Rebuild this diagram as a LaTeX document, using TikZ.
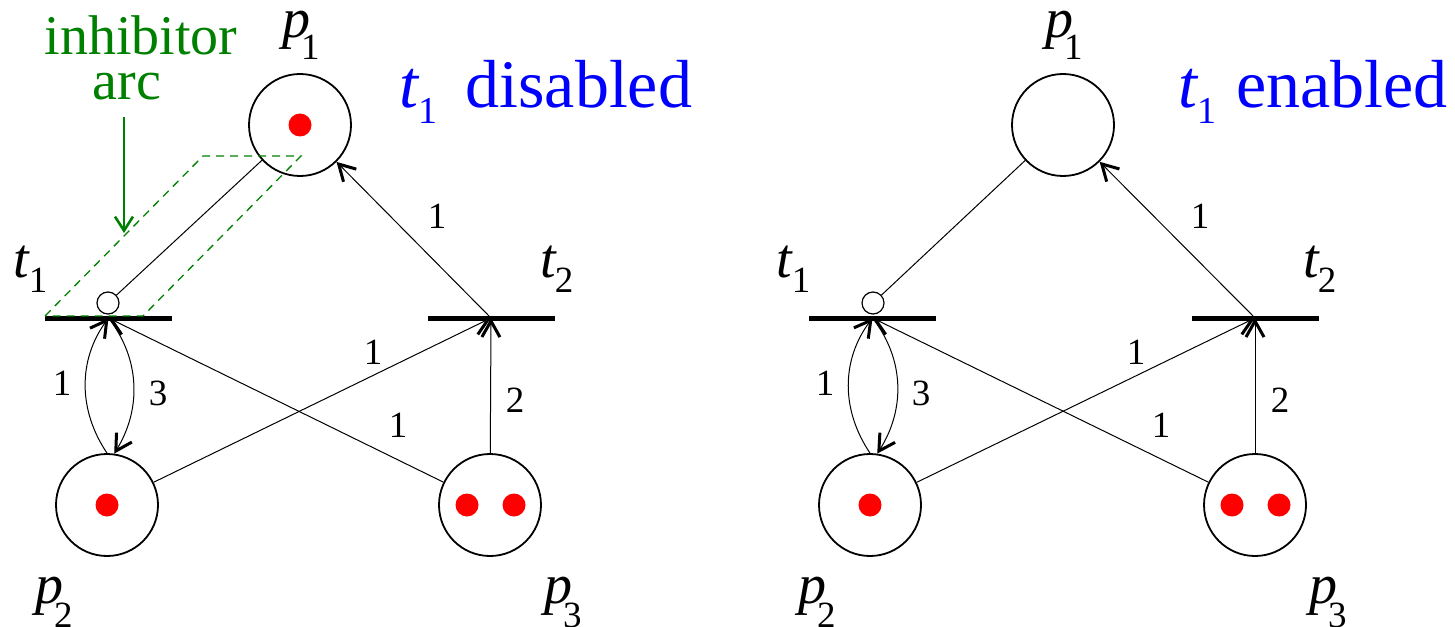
\documentclass[tikz,border=0pt]{standalone}
\usepackage{fontspec}
\setmainfont{Liberation Serif}
\usetikzlibrary{arrows.meta}
\newcommand{\subdig}[3]{\kern#1\raisebox{-#2}{\fontsize{37bp}{40bp}\selectfont #3}}
\newcommand{\bsubdig}[3]{\kern#1\raisebox{-#2}{\fontsize{38bp}{40bp}\selectfont #3}}
\begin{document}
\begin{tikzpicture}[x=1bp,y=-1bp,
  place/.style={circle,draw,line width=1.8bp,minimum size=102bp,inner sep=0pt},
  transbar/.style={rectangle,fill=black,minimum width=127bp,minimum height=5bp,inner sep=0pt},
  inhib/.style={circle,draw,line width=1.2bp,fill=white,minimum size=22bp,inner sep=0pt},
  tok/.style={circle,fill=red,minimum size=23bp,inner sep=0pt},
  pnarc/.style={line width=1bp,-{Straight Barb[length=16bp,width=18bp,line width=3bp]}},
  thinline/.style={line width=1bp},
  num/.style={font=\fontsize{37bp}{40bp}\selectfont,inner sep=0pt},
  biglbl/.style={font=\fontsize{56bp}{60bp}\selectfont,anchor=base west,inner sep=0pt},
  bluelbl/.style={font=\fontsize{68bp}{72bp}\selectfont,anchor=base west,inner sep=0pt,text=blue},
  greentxt/.style={font=\fontsize{56bp}{60bp}\selectfont,anchor=base,inner sep=0pt,text=inhgreen},
]
\definecolor{inhgreen}{rgb}{0,0.5,0}
\useasboundingbox (0,0) rectangle (1455,627);

% ================= LEFT NET =================
\node[place] (Lp1) at (300,125) {};
\node[place] (Lp2) at (107,505) {};
\node[place] (Lp3) at (490,505) {};
\node[transbar] (Lt1) at (108.5,318) {};
\node[transbar] (Lt2) at (491,318) {};
\node[inhib] (Linh) at (108,303) {};
\node[tok] (Lk1) at (300,125) {};
\node[tok] (Lk2) at (107,505) {};
\node[tok] (Lk3) at (467,505) {};
\node[tok] (Lk4) at (514,505) {};

\draw[thinline] (Linh) -- (Lp1);
\draw[pnarc] (Lt2.center) -- (Lp1);
\draw[pnarc] (Lp3) -- (Lt2.center);
\draw[pnarc] (Lp2) -- (Lt2.center);
\draw[pnarc] (Lp3) -- (Lt1.center);
\draw[pnarc] (Lp2.north) .. controls (78,410) and (78,360) .. (Lt1.center);
\draw[pnarc] (Lt1.center) .. controls (141,360) and (141,410) .. (Lp2.82);

\node[num] (Ln1) at (437,216) {1};
\node[num] (Ln2) at (373,352) {1};
\node[num] (Ln3) at (398,425) {1};
\node[num] (Ln4) at (515,400) {2};
\node[num] (Ln5) at (62,383) {1};
\node[num] (Ln6) at (158,393) {3};

\node[biglbl] (Lp1l) at (282,38) {\textit{p}\subdig{-9bp}{22bp}{1}};
\node[biglbl] (Lt1l) at (13,277) {\textit{t}\subdig{-1bp}{15bp}{1}};
\node[biglbl] (Lt2l) at (540,277) {\textit{t}\subdig{-2bp}{15bp}{2}};
\node[biglbl] (Lp2l) at (35,603) {\textit{p}\subdig{-9bp}{24bp}{2}};
\node[biglbl] (Lp3l) at (544,603) {\textit{p}\subdig{-9bp}{24bp}{3}};
\node[bluelbl] (Lstate) at (399,108) {\textit{t}\bsubdig{-1bp}{16bp}{1}\kern28bp disabled};

% inhibitor annotation
\draw[inhgreen,line width=1.3bp,dash pattern=on 8bp off 6bp]
  (45,316) -- (203,156) -- (301,156) -- (143,316) -- cycle;
\node[greentxt] (Linhtxt) at (141,55) {inhibitor};
\node[greentxt] (Larctxt) at (127,100) {arc};
\coordinate (Lga) at (124,117);
\coordinate (Lgb) at (124,233);
\draw[inhgreen,line width=1.2bp,-{Straight Barb[length=14bp,width=18bp,line width=2.6bp]}] (Lga) -- (Lgb);

% ================= RIGHT NET =================
\begin{scope}[xshift=763bp]
\node[place] (Rp1) at (300,125) {};
\node[place] (Rp2) at (107,505) {};
\node[place] (Rp3) at (492,505) {};
\node[transbar] (Rt1) at (109.5,318) {};
\node[transbar] (Rt2) at (492,318) {};
\node[inhib] (Rinh) at (110,303) {};
\node[tok] (Rk2) at (107,505) {};
\node[tok] (Rk3) at (469,505) {};
\node[tok] (Rk4) at (516,505) {};

\draw[thinline] (Rinh) -- (Rp1);
\draw[pnarc] (Rt2.center) -- (Rp1);
\draw[pnarc] (Rp3) -- (Rt2.center);
\draw[pnarc] (Rp2) -- (Rt2.center);
\draw[pnarc] (Rp3) -- (Rt1.center);
\draw[pnarc] (Rp2.north) .. controls (78,410) and (78,360) .. (Rt1.center);
\draw[pnarc] (Rt1.center) .. controls (142,360) and (142,410) .. (Rp2.82);

\node[num] (Rn1) at (437,216) {1};
\node[num] (Rn2) at (373,352) {1};
\node[num] (Rn3) at (398,425) {1};
\node[num] (Rn4) at (517,400) {2};
\node[num] (Rn5) at (62,383) {1};
\node[num] (Rn6) at (158,393) {3};

\node[biglbl] (Rp1l) at (282,38) {\textit{p}\subdig{-9bp}{22bp}{1}};
\node[biglbl] (Rt1l) at (13,277) {\textit{t}\subdig{-1bp}{15bp}{1}};
\node[biglbl] (Rt2l) at (540,277) {\textit{t}\subdig{-2bp}{15bp}{2}};
\node[biglbl] (Rp2l) at (35,603) {\textit{p}\subdig{-9bp}{24bp}{2}};
\node[biglbl] (Rp3l) at (546,603) {\textit{p}\subdig{-9bp}{24bp}{3}};
\node[bluelbl] (Rstate) at (415,108) {\textit{t}\bsubdig{-1bp}{16bp}{1}\kern20bp enabled};
\end{scope}
\end{tikzpicture}
\end{document}
